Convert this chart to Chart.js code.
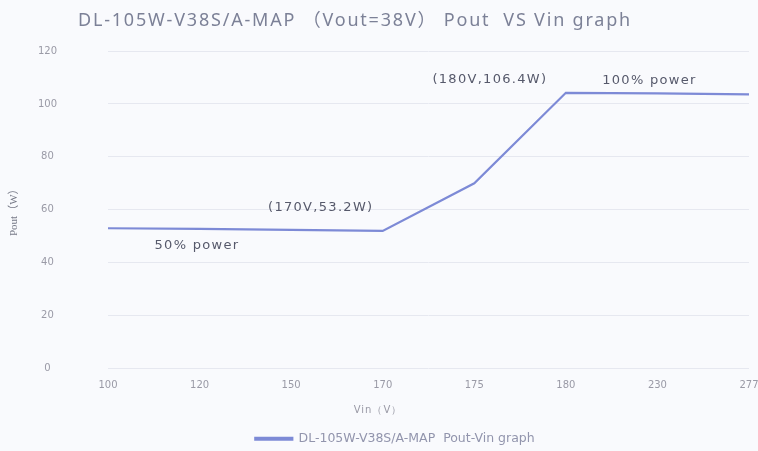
<!DOCTYPE html>
<html>
<head>
<meta charset="utf-8">
<script src="https://cdn.jsdelivr.net/npm/chart.js@4.4.0/dist/chart.umd.min.js"></script>
<style>
  html, body { margin: 0; padding: 0; background: #f9fafd; }
  #wrap { width: 758px; height: 451px; }
</style>
</head>
<body>
<div id="wrap"><canvas id="PoutChart"></canvas></div>
<script>
// DATA
const vinLabels = ["100", "120", "150", "170", "175", "180", "230", "277"];
const poutValues = [53, 52.8, 52.4, 52, 70, 104.2, 104, 103.6];
const yTicks = [0, 20, 40, 60, 80, 100, 120];
const noteTexts = ["(170V,53.2W)", "50% power", "(180V,106.4W)", "100% power"];
const noteIndex = [3, 0, 5, 6];

const seriesName = "DL-105W-V38S/A-MAP  Pout-Vin graph";
const titleText = "DL-105W-V38S/A-MAP （Vout=38V） Pout  VS Vin graph";
const xTitle = "Vin（V）";

const fontFam = "'Noto Sans', 'DejaVu Sans', 'Noto Sans CJK SC', sans-serif";

// title, x title and notes drawn by hand (they sit off-centre in the original)
const textPlugin = {
  id: 'texts',
  afterLayout(chart) {
    // push legend a bit to the right
    chart.legend.left += 24;
  },
  afterDatasetsDraw(chart) {
    const ctx = chart.ctx;
    const xs = chart.scales.x, ys = chart.scales.y;
    ctx.save();
    ctx.textBaseline = "middle";

    ctx.font = "18px " + fontFam;
    ctx.letterSpacing = "1.8px";
    ctx.fillStyle = "#7c8197";
    ctx.textAlign = "left";
    ctx.fillText(titleText, 78, 21);

    ctx.font = "10px 'DejaVu Sans'";
    ctx.letterSpacing = "1px";
    ctx.fillStyle = "#9a9aa6";
    ctx.textAlign = "center";
    ctx.fillText(xTitle, 378, 410);

    const shift = [[-62, -23], [89, 17], [-76, -13], [-8, -13]];
    ctx.font = "13px 'DejaVu Sans'";
    ctx.letterSpacing = "1.3px";
    ctx.fillStyle = "#56596b";
    noteTexts.forEach((t, i) => {
      const k = noteIndex[i];
      const x = xs.getPixelForValue(k) + shift[i][0];
      const y = ys.getPixelForValue(poutValues[k]) + shift[i][1];
      ctx.fillText(t, x, y);
    });
    ctx.restore();
  }
};

new Chart("PoutChart", {
  type: "line",
  data: {
    labels: vinLabels,
    datasets: [{
      label: seriesName,
      data: poutValues,
      borderColor: "#7d8ad6",
      backgroundColor: "#8592da",
      borderWidth: 2.2,
      pointRadius: 0,
      tension: 0
    }]
  },
  options: {
    responsive: true,
    maintainAspectRatio: false,
    animation: false,
    layout: { padding: { left: 8, right: 0, top: 51, bottom: -4 } },
    plugins: {
      title: { display: false },
      legend: {
        position: "bottom",
        labels: {
          color: "#9295ad",
          font: { family: "'DejaVu Sans'", size: 12.5 },
          boxWidth: 37,
          boxHeight: 2,
          padding: 5
        }
      },
      tooltip: { enabled: false }
    },
    scales: {
      x: {
        offset: false,
        afterFit(axis) { axis.height = 59; axis.paddingRight = 9; },
        grid: { display: false },
        border: { display: false },
        ticks: { color: "#9a9aa6", font: { family: "'DejaVu Sans'", size: 10 }, padding: 3, maxRotation: 0, autoSkip: false }
      },
      y: {
        min: 0,
        max: 120,
        afterBuildTicks(axis) { axis.ticks = yTicks.map(v => ({ value: v })); },
        afterFit(axis) { axis.width = 100; axis.paddingTop = 6; axis.paddingBottom = 6; },
        grid: { color: "#e6e8f0", drawTicks: false },
        border: { display: false },
        ticks: { color: "#9a9aa6", font: { family: "'DejaVu Sans'", size: 10 }, padding: 51, crossAlign: "center" },
        title: { display: true, text: "Pout（W）", color: "#777a88", font: { family: "'Liberation Serif', 'Noto Sans CJK SC', serif", size: 11 }, padding: { top: 0, bottom: 2 } }
      }
    }
  },
  plugins: [textPlugin]
});
</script>
</body>
</html>
